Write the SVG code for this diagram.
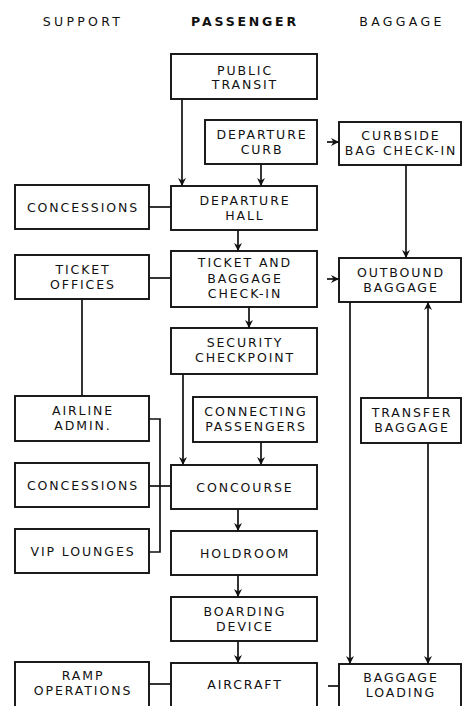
<svg xmlns="http://www.w3.org/2000/svg" width="467" height="706" viewBox="0 0 467 706">
<style>
.box rect{fill:#fff;stroke:#111;stroke-width:1.9}
.box text{font-family:"DejaVu Sans","Liberation Sans",sans-serif;font-size:12.5px;letter-spacing:1.9px;fill:#111;text-anchor:middle}
.hdr{font-family:"DejaVu Sans","Liberation Sans",sans-serif;font-size:12.5px;letter-spacing:3.3px;fill:#111;text-anchor:middle}
#connectors path{fill:none;stroke:#111;stroke-width:1.7}
</style>
<defs>
<marker id="ah" markerUnits="userSpaceOnUse" markerWidth="9" markerHeight="9" refX="8" refY="4.5" orient="auto">
<path d="M0,0.5 L8,4.5 L0,8.5 L2.5,4.5 z" fill="#111"/>
</marker>
</defs>
<rect width="467" height="706" fill="#fff"/>
<g id="headers">
<text class="hdr" x="83" y="26">SUPPORT</text>
<text class="hdr" x="245" y="26" font-weight="bold" style="letter-spacing:2.8px">PASSENGER</text>
<text class="hdr" x="402" y="26">BAGGAGE</text>
</g>
<g id="connectors">
<path d="M182,99 V186" marker-end="url(#ah)"/>
<path d="M261,164 V186" marker-end="url(#ah)"/>
<path d="M327,142 H339" marker-end="url(#ah)"/>
<path d="M149,207 H171"/>
<path d="M238,230 V251" marker-end="url(#ah)"/>
<path d="M149,278 H171"/>
<path d="M327,279 H339" marker-end="url(#ah)"/>
<path d="M406,165 V258" marker-end="url(#ah)"/>
<path d="M249,307 V328" marker-end="url(#ah)"/>
<path d="M82,299 V396"/>
<path d="M183,374 V465" marker-end="url(#ah)"/>
<path d="M261,442 V465" marker-end="url(#ah)"/>
<path d="M149,486 H171"/>
<path d="M149,419 H160 V552 H149"/>
<path d="M238,509 V531" marker-end="url(#ah)"/>
<path d="M238,575 V597" marker-end="url(#ah)"/>
<path d="M238,641 V663" marker-end="url(#ah)"/>
<path d="M350,302 V664" marker-end="url(#ah)"/>
<path d="M428,398 V302" marker-end="url(#ah)"/>
<path d="M428,443 V664" marker-end="url(#ah)"/>
<path d="M149,684 H171"/>
<path d="M328,686 H339"/>
</g>
<g id="public-transit" class="box"><rect x="171" y="54" width="146" height="45"/><text x="245" y="74.5">PUBLIC</text><text x="245" y="89">TRANSIT</text></g>
<g id="departure-curb" class="box"><rect x="205" y="120" width="112" height="44"/><text x="262" y="138.5">DEPARTURE</text><text x="262" y="153.5">CURB</text></g>
<g id="curbside" class="box"><rect x="339" y="122" width="122" height="43"/><text x="401" y="139.5">CURBSIDE</text><text x="401" y="154.5">BAG CHECK-IN</text></g>
<g id="concessions-1" class="box"><rect x="15" y="185" width="134" height="44"/><text x="83" y="211.5">CONCESSIONS</text></g>
<g id="departure-hall" class="box"><rect x="171" y="186" width="146" height="44"/><text x="245" y="204.5">DEPARTURE</text><text x="245" y="219.5">HALL</text></g>
<g id="ticket-offices" class="box"><rect x="15" y="255" width="134" height="44"/><text x="83" y="273.5">TICKET</text><text x="83" y="288.5">OFFICES</text></g>
<g id="ticket-check-in" class="box"><rect x="171" y="251" width="146" height="56"/><text x="245" y="267">TICKET AND</text><text x="245" y="282.5">BAGGAGE</text><text x="245" y="298">CHECK-IN</text></g>
<g id="outbound-baggage" class="box"><rect x="339" y="258" width="122" height="44"/><text x="401" y="276.5">OUTBOUND</text><text x="401" y="291.5">BAGGAGE</text></g>
<g id="security" class="box"><rect x="171" y="328" width="146" height="46"/><text x="245" y="347">SECURITY</text><text x="245" y="362">CHECKPOINT</text></g>
<g id="airline-admin" class="box"><rect x="15" y="396" width="134" height="45"/><text x="83" y="414.5">AIRLINE</text><text x="83" y="429.5">ADMIN.</text></g>
<g id="connecting" class="box"><rect x="193" y="397" width="124" height="45"/><text x="256" y="415.5">CONNECTING</text><text x="256" y="430.5">PASSENGERS</text></g>
<g id="transfer-baggage" class="box"><rect x="361" y="398" width="100" height="45"/><text x="412" y="416.5">TRANSFER</text><text x="412" y="431.5">BAGGAGE</text></g>
<g id="concessions-2" class="box"><rect x="15" y="463" width="134" height="44"/><text x="83" y="489.5">CONCESSIONS</text></g>
<g id="concourse" class="box"><rect x="171" y="465" width="146" height="44"/><text x="245" y="491.5">CONCOURSE</text></g>
<g id="vip-lounges" class="box"><rect x="15" y="529" width="134" height="44"/><text x="83" y="555.5">VIP LOUNGES</text></g>
<g id="holdroom" class="box"><rect x="171" y="531" width="146" height="44"/><text x="245" y="557.5">HOLDROOM</text></g>
<g id="boarding-device" class="box"><rect x="171" y="597" width="146" height="44"/><text x="245" y="615.5">BOARDING</text><text x="245" y="630.5">DEVICE</text></g>
<g id="ramp-operations" class="box"><rect x="15" y="662" width="134" height="46"/><text x="83" y="679.5">RAMP</text><text x="83" y="694.5">OPERATIONS</text></g>
<g id="aircraft" class="box"><rect x="171" y="663" width="146" height="46"/><text x="245" y="689">AIRCRAFT</text></g>
<g id="baggage-loading" class="box"><rect x="339" y="664" width="122" height="46"/><text x="401" y="682">BAGGAGE</text><text x="401" y="697">LOADING</text></g>
</svg>
